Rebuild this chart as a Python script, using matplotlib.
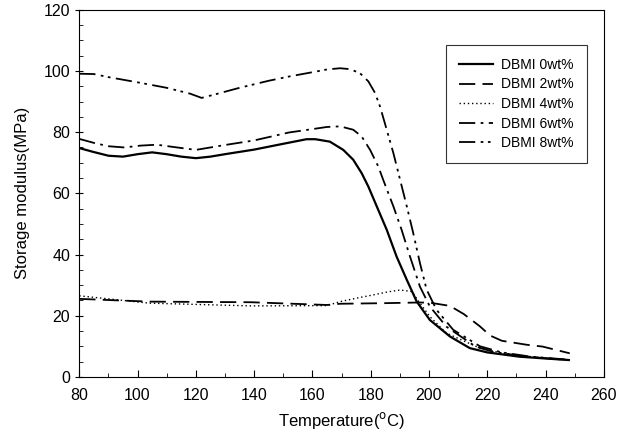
import matplotlib.pyplot as plt
from matplotlib.ticker import MultipleLocator

plt.rcParams['font.family'] = ['Liberation Sans', 'DejaVu Sans']

# DBMI 0wt%
t0 = [80, 85, 90, 95, 100, 105, 110, 115, 120, 125, 130, 140, 150, 158, 161, 166, 170.6, 174,
      176.9, 179.2, 182.1, 185.5, 188.9, 192.4, 195.8, 200.3, 207.2, 214, 220, 231, 240, 248]
e0 = [74.8, 73.5, 72.3, 72, 72.8, 73.4, 72.8, 72, 71.5, 72, 72.8, 74.3, 76.2, 77.7, 77.7, 76.9, 74.2, 71,
      66.6, 62.2, 55.7, 48.1, 39.3, 31.7, 24.6, 18.6, 13.2, 9.4, 8, 6.6, 6, 5.5]
# DBMI 2wt%
t2 = [80, 104, 139, 165, 169.5, 185, 195.8, 200, 207.2, 212, 217.5, 221, 225, 233.5, 239, 248.3]
e2 = [25.5, 24.6, 24.4, 23.5, 23.9, 24.1, 24.3, 24.3, 23.2, 20.5, 16.5, 13.5, 11.8, 10.5, 9.9, 7.7]
# DBMI 4wt%
t4 = [80, 104, 139, 165, 169.5, 175, 180.9, 186, 190.1, 194.1, 196.9, 200.3, 206, 211.8, 218, 225.5, 235, 248]
e4 = [26.5, 24.1, 23.2, 23.3, 24.6, 25.7, 26.8, 27.8, 28.4, 27.9, 24.1, 19.7, 14.3, 11.8, 9.2, 7.7, 6.5, 5.5]
# DBMI 6wt%
t6 = [80, 85, 90, 95.5, 101, 106.6, 112, 120, 130, 140, 152, 160, 165, 169.5, 174, 176.9, 179.8, 182.6,
      184.3, 187.8, 190.6, 193.5, 196.9, 200.3, 206, 216, 222, 232, 240, 248]
e6 = [77.8, 76.5, 75.4, 75, 75.6, 75.9, 75.2, 74.2, 75.8, 77.3, 79.9, 81, 81.7, 81.9, 80.8, 78.6, 74.2, 68.8,
      64.4, 55.7, 48.1, 39.3, 29.5, 23, 16.4, 9.9, 8.2, 6.8, 6.1, 5.5]
# DBMI 8wt%
t8 = [80, 85, 90, 100, 110, 118, 122, 126, 135, 145, 152, 160, 165, 169.5, 172.9, 176.3, 179.2, 181.5,
      183.2, 185.5, 187.8, 190.1, 192.4, 194.6, 196.9, 199.2, 202.6, 208.3, 217.5, 225, 235, 248.3]
e8 = [99.1, 99, 98, 96.3, 94.5, 92.6, 91.2, 92.2, 94.5, 96.8, 98.2, 99.6, 100.5, 100.9, 100.6, 99.3, 96.6, 92.8,
      88.4, 80.8, 73.1, 64.4, 55.7, 47, 37.2, 28.5, 21.9, 15.4, 10, 8, 6.6, 5.6]

labels = ['DBMI 0wt%', 'DBMI 2wt%', 'DBMI 4wt%', 'DBMI 6wt%', 'DBMI 8wt%']

fig = plt.figure(figsize=(6.29, 4.46), dpi=100)
ax = fig.add_axes([0.126, 0.155, 0.834, 0.823])

ax.plot(t0, e0, color='black', lw=1.6, ls='-', label=labels[0])
ax.plot(t2, e2, color='black', lw=1.3, ls=(0, (9, 4)), label=labels[1])
ax.plot(t4, e4, color='black', lw=1.0, ls=(0, (1, 2)), label=labels[2])
ax.plot(t6, e6, color='black', lw=1.3, ls=(0, (9, 3, 1.5, 3)), label=labels[3])
ax.plot(t8, e8, color='black', lw=1.3, ls=(0, (9, 3, 1.5, 2.5, 1.5, 3)), label=labels[4])

ax.set_xlim(80, 260)
ax.set_ylim(0, 120)
ax.xaxis.set_major_locator(MultipleLocator(20))
ax.xaxis.set_minor_locator(MultipleLocator(10))
ax.yaxis.set_major_locator(MultipleLocator(20))
ax.yaxis.set_minor_locator(MultipleLocator(5))
ax.tick_params(which='both', direction='in', labelsize=11.5)
ax.tick_params(axis='y', which='major', direction='inout', length=6)
ax.tick_params(axis='x', which='major', length=5, pad=8)
ax.tick_params(which='minor', length=3)

ax.set_xlabel('Temperature($^{\\rm o}$C)', fontsize=12, labelpad=5)
ax.set_ylabel('Storage modulus(MPa)', fontsize=12, labelpad=10)

leg = ax.legend(loc='upper right', bbox_to_anchor=(0.981, 0.924), fontsize=10,
                frameon=True, fancybox=False, edgecolor='black', handlelength=2.4,
                handletextpad=0.6, borderpad=0.95, labelspacing=0.4)
leg.get_frame().set_linewidth(0.8)

fig.savefig('out.png', dpi=100)
